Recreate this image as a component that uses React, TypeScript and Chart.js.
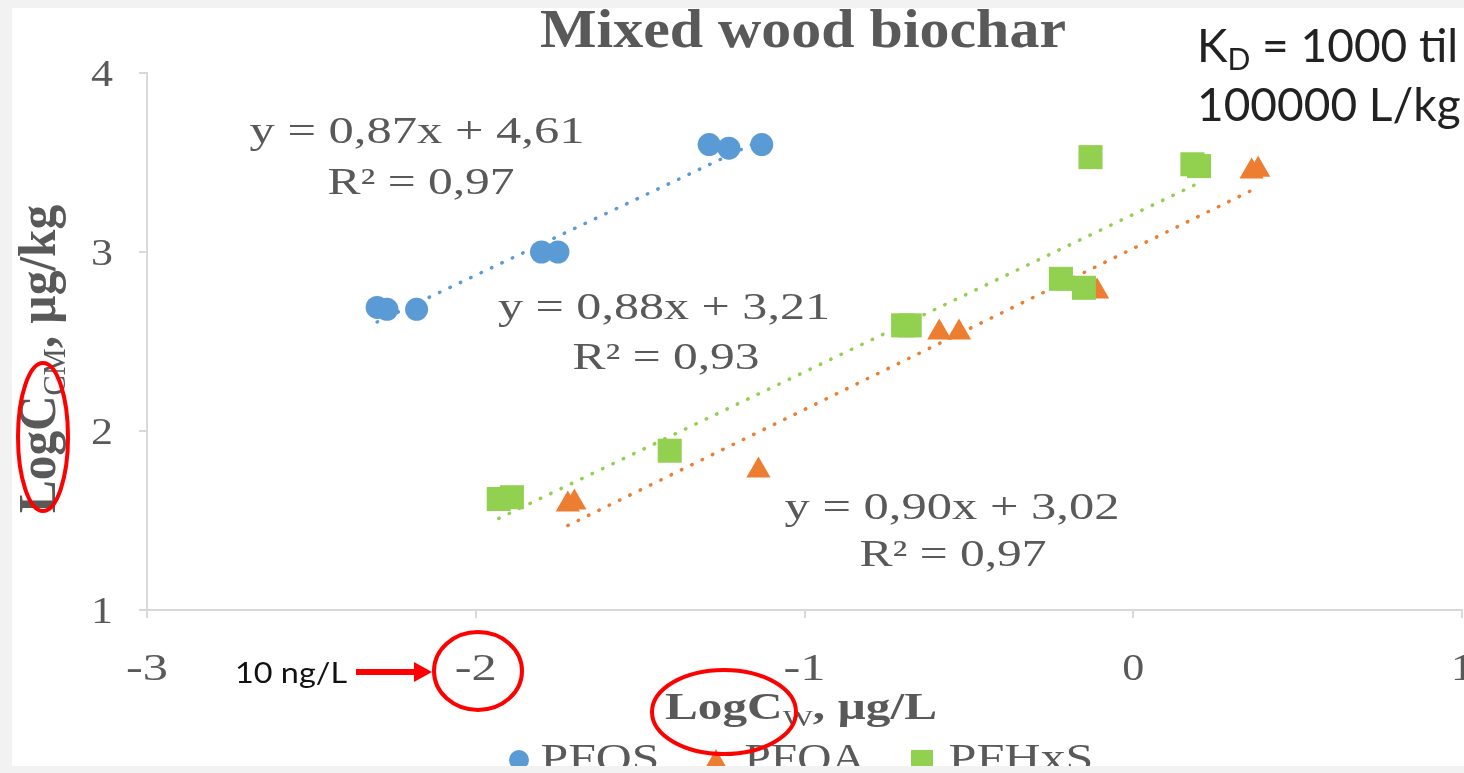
import React, { useEffect, useRef } from 'react';
import { Chart, registerables } from 'chart.js';
Chart.register(...registerables);

// ---- data ----
const seriesNames = ['PFOS', 'PFOA', 'PFHxS'];
const pfosX = [-2.30, -2.27, -2.18, -1.80, -1.75, -1.29, -1.23, -1.13];
const pfosY = [2.69, 2.68, 2.68, 3.00, 3.00, 3.60, 3.58, 3.60];
const pfoaX = [-1.72, -1.70, -1.14, -0.59, -0.53, -0.15, -0.11, 0.36, 0.38];
const pfoaY = [1.59, 1.60, 1.78, 2.55, 2.55, 2.79, 2.78, 3.45, 3.46];
const pfhxsX = [-1.93, -1.89, -1.41, -0.70, -0.68, -0.22, -0.15, -0.13, 0.18, 0.20];
const pfhxsY = [1.62, 1.63, 1.89, 2.59, 2.59, 2.85, 2.80, 3.53, 3.49, 3.48];
// trendlines (from the displayed equations)
const trendSlopes = [0.87, 0.90, 0.88];
const trendIntercepts = [4.61, 3.02, 3.21];
const eqLabels = ['y = 0,87x + 4,61', 'y = 0,90x + 3,02', 'y = 0,88x + 3,21'];
const r2Labels = ['R\u00B2 = 0,97', 'R\u00B2 = 0,97', 'R\u00B2 = 0,93'];
const xTickValues = [-3, -2, -1, 0, 1];
const yTickValues = [1, 2, 3, 4];
const titleText = 'Mixed wood biochar';
const kdLine1 = ['K', 'D', ' = 1000 til'];
const kdLine2 = '100000 L/kg';
const noteText = '10 ng/L';

// ---- styles ----
const colors = ['#5b9bd5', '#ed7d31', '#92d050'];
const serif = '"Liberation Serif", "Times New Roman", serif';
const sans = 'Lato, "Open Sans", sans-serif';
const textGrey = '#595959';
const axisGrey = '#d9d9d9';
const W = 1464;
const H = 773;

// label layout (pixels): centre x, baseline, width
const eqPos = [
  { x: 417, y: 143, w: 335, rx: 421, ry: 194, rw: 187 },
  { x: 952, y: 519, w: 335, rx: 953, ry: 566, rw: 187 },
  { x: 664, y: 319, w: 332, rx: 666, ry: 369, rw: 187 },
];

function toPts(xs: number[], ys: number[]) {
  return xs.map((x, i) => ({ x, y: ys[i] }));
}
function trendPts(xs: number[], k: number) {
  const lo = Math.min(...xs);
  const hi = Math.max(...xs);
  return [
    { x: lo, y: trendSlopes[k] * lo + trendIntercepts[k] },
    { x: hi, y: trendSlopes[k] * hi + trendIntercepts[k] },
  ];
}

type Part = { t: string; sub?: boolean };

// draws text parts at (cx, baseline), stretched horizontally to the target width
function drawFit(ctx: CanvasRenderingContext2D, parts: Part[], cx: number, by: number, size: number, subSize: number, family: string, weight: string, color: string, target: number, align: 'center' | 'right' | 'left' = 'center') {
  ctx.save();
  ctx.fillStyle = color;
  ctx.textBaseline = 'alphabetic';
  ctx.textAlign = 'left';
  let w = 0;
  const widths = parts.map((p) => {
    ctx.font = `${p.sub ? 'normal' : weight} ${p.sub ? subSize : size}px ${family}`;
    const m = ctx.measureText(p.t).width;
    w += m;
    return m;
  });
  const sx = target > 0 ? target / w : 1;
  ctx.translate(cx, by);
  ctx.scale(sx, 1);
  let x = align === 'center' ? -w / 2 : align === 'right' ? -w : 0;
  parts.forEach((p, i) => {
    ctx.font = `${p.sub ? 'normal' : weight} ${p.sub ? subSize : size}px ${family}`;
    ctx.fillText(p.t, x, p.sub ? size * 0.2 : 0);
    x += widths[i];
  });
  ctx.restore();
}

const decorPlugin = {
  id: 'decor',
  beforeDraw(chart: any) {
    const ctx = chart.ctx as CanvasRenderingContext2D;
    ctx.save();
    ctx.fillStyle = '#ffffff';
    ctx.fillRect(0, 0, chart.width, chart.height);
    ctx.restore();
  },
  afterDraw(chart: any) {
    const ctx = chart.ctx as CanvasRenderingContext2D;
    const xs = chart.scales.x;
    const ys = chart.scales.y;

    // tick labels
    xTickValues.forEach((v) => {
      drawFit(ctx, [{ t: String(v) }], xs.getPixelForValue(v), 680, 38, 0, serif, 'normal', textGrey, v < 0 ? 42 : 22);
    });
    yTickValues.forEach((v) => {
      drawFit(ctx, [{ t: String(v) }], 113, ys.getPixelForValue(v) + 13, 38, 0, serif, 'normal', textGrey, 22, 'right');
    });

    // title
    drawFit(ctx, [{ t: titleText }], 803, 47, 54, 0, serif, 'bold', textGrey, 526);

    // equations
    eqLabels.forEach((t, i) => {
      const p = eqPos[i];
      drawFit(ctx, [{ t }], p.x, p.y, 38, 0, serif, 'normal', textGrey, p.w);
      drawFit(ctx, [{ t: r2Labels[i] }], p.rx, p.ry, 38, 0, serif, 'normal', textGrey, p.rw);
    });

    // axis titles
    drawFit(ctx, [{ t: 'LogC' }, { t: 'W', sub: true }, { t: ', \u00B5g/L' }], 801, 719, 37, 24, serif, 'bold', textGrey, 272);
    ctx.save();
    ctx.translate(55, 359);
    ctx.rotate(-Math.PI / 2);
    drawFit(ctx, [{ t: 'LogC' }, { t: 'CM', sub: true }, { t: ', \u00B5g/kg' }], 0, 0, 52, 32, serif, 'bold', textGrey, 308);
    ctx.restore();

    // legend
    ctx.save();
    ctx.fillStyle = colors[0];
    ctx.beginPath();
    ctx.arc(519, 760, 10, 0, Math.PI * 2);
    ctx.fill();
    ctx.fillStyle = colors[1];
    ctx.beginPath();
    ctx.moveTo(716, 749);
    ctx.lineTo(729, 772);
    ctx.lineTo(703, 772);
    ctx.closePath();
    ctx.fill();
    ctx.fillStyle = colors[2];
    ctx.fillRect(911, 750, 22, 22);
    ctx.restore();
    drawFit(ctx, [{ t: seriesNames[0] }], 600, 771, 40, 0, serif, 'normal', textGrey, 119);
    drawFit(ctx, [{ t: seriesNames[1] }], 805, 771, 40, 0, serif, 'normal', textGrey, 121);
    drawFit(ctx, [{ t: seriesNames[2] }], 1021, 771, 40, 0, serif, 'normal', textGrey, 145);

    // KD annotation
    ctx.save();
    ctx.fillStyle = '#222222';
    ctx.font = `46px ${sans}`;
    ctx.textAlign = 'left';
    ctx.textBaseline = 'alphabetic';
    ctx.fillText(kdLine1[0], 1197, 62);
    const kw = ctx.measureText(kdLine1[0]).width;
    ctx.font = `30px ${sans}`;
    ctx.fillText(kdLine1[1], 1197 + kw, 70);
    const dw = ctx.measureText(kdLine1[1]).width;
    ctx.font = `46px ${sans}`;
    ctx.fillText(kdLine1[2], 1197 + kw + dw, 62);
    ctx.fillText(kdLine2, 1197, 121);
    ctx.restore();

    // 10 ng/L with arrow
    drawFit(ctx, [{ t: noteText }], 291, 683, 29, 0, sans, 'normal', '#111111', 112);
    ctx.save();
    ctx.fillStyle = '#ff0000';
    ctx.fillRect(356, 669, 60, 6);
    ctx.beginPath();
    ctx.moveTo(432, 672);
    ctx.lineTo(414, 662);
    ctx.lineTo(414, 682);
    ctx.closePath();
    ctx.fill();

    // red ellipses
    ctx.strokeStyle = '#ff0000';
    ctx.lineWidth = 4;
    const ell = [
      [478, 671, 44, 39],
      [724, 712, 72, 42],
      [43, 437, 25, 74],
    ];
    ell.forEach(([x, y, rx, ry]) => {
      ctx.beginPath();
      ctx.ellipse(x, y, rx, ry, 0, 0, Math.PI * 2);
      ctx.stroke();
    });

    // outer grey frame
    ctx.fillStyle = '#f2f2f2';
    ctx.fillRect(0, 0, chart.width, 8);
    ctx.fillRect(0, 0, 12, chart.height);
    ctx.fillRect(0, 766, chart.width, chart.height - 766);
    ctx.restore();
  },
};

export default function App() {
  const ref = useRef<HTMLCanvasElement | null>(null);
  useEffect(() => {
    if (!ref.current) return;
    document.body.style.margin = '0';
    document.documentElement.style.overflow = 'hidden';
    const xs = [pfosX, pfoaX, pfhxsX];
    const ys = [pfosY, pfoaY, pfhxsY];
    const styles = ['circle', 'triangle', 'rect'];
    const radii = [11.5, 14, 17];
    const scatterSets = xs.map((x, i) => ({
      type: 'scatter' as const,
      label: seriesNames[i],
      data: toPts(x, ys[i]),
      backgroundColor: colors[i],
      borderColor: colors[i],
      borderWidth: 0,
      pointStyle: styles[i],
      pointRadius: radii[i],
      order: 2 - i,
      clip: false,
    }));
    const trendSets = xs.map((x, i) => ({
      type: 'line' as const,
      label: seriesNames[i] + ' trend',
      data: trendPts(x, i),
      borderColor: colors[i],
      borderWidth: 3.5,
      borderDash: [0.5, 11],
      borderCapStyle: 'round',
      pointRadius: 0,
      fill: false,
      order: 10,
    }));
    const fixX = (s: any) => {
      s.height = H - 610;
      s.paddingLeft = 0;
      s.paddingRight = 0;
    };
    const fixY = (s: any) => {
      s.width = 147;
      s.paddingTop = 0;
      s.paddingBottom = 0;
    };
    const chart = new Chart(ref.current, {
      type: 'scatter',
      data: { datasets: [...scatterSets, ...trendSets] as any },
      options: {
        animation: false,
        responsive: false,
        events: [],
        layout: { autoPadding: false, padding: { top: 73, right: 2, left: 0, bottom: 0 } },
        plugins: { legend: { display: false }, tooltip: { enabled: false }, title: { display: false } },
        scales: {
          x: {
            type: 'linear',
            min: -3,
            max: 1,
            afterBuildTicks: (s: any) => {
              s.ticks = xTickValues.map((v) => ({ value: v }));
            },
            afterFit: fixX,
            ticks: { display: false },
            grid: { display: true, drawOnChartArea: false, drawTicks: true, tickLength: 8, color: axisGrey, lineWidth: 2 },
            border: { display: true, color: axisGrey, width: 2 },
          },
          y: {
            type: 'linear',
            min: 1,
            max: 4,
            afterBuildTicks: (s: any) => {
              s.ticks = yTickValues.map((v) => ({ value: v }));
            },
            afterFit: fixY,
            ticks: { display: false },
            grid: { display: true, drawOnChartArea: false, drawTicks: true, tickLength: 8, color: axisGrey, lineWidth: 2 },
            border: { display: true, color: axisGrey, width: 2 },
          },
        },
      } as any,
      plugins: [decorPlugin],
    });
    return () => chart.destroy();
  }, []);
  return (
    <div style={{ position: 'absolute', left: 0, top: 0, width: W, height: H, overflow: 'hidden', background: '#ffffff' }}>
      <canvas ref={ref} width={W} height={H} style={{ display: 'block', width: W, height: H }} />
    </div>
  );
}
